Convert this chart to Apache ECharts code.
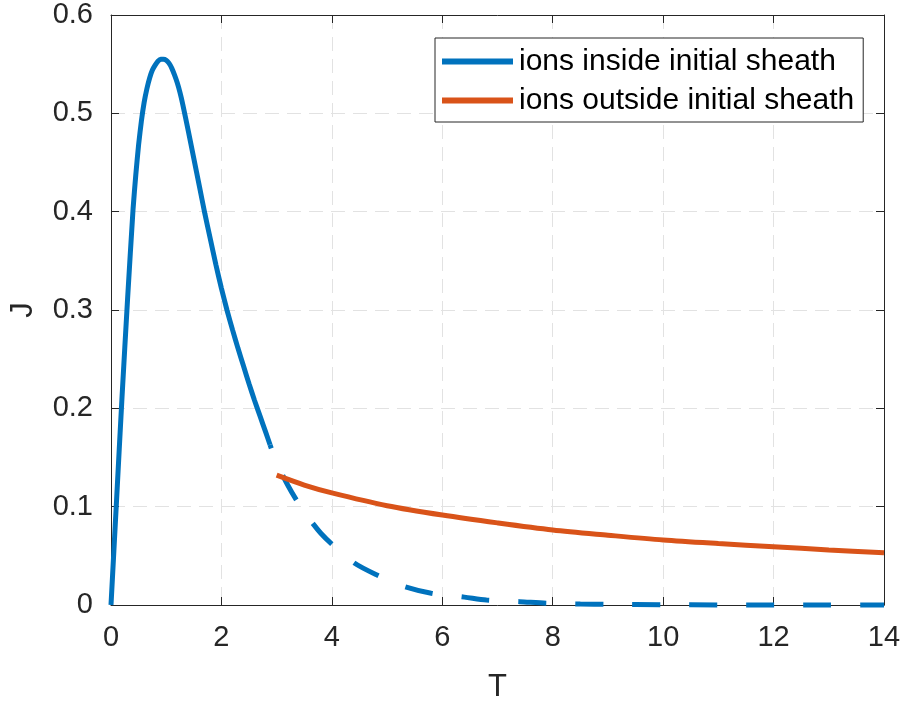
<!DOCTYPE html>
<html>
<head>
<meta charset="utf-8">
<script src="https://cdn.jsdelivr.net/npm/echarts@6/dist/echarts.min.js"></script>
<style>
html,body{margin:0;padding:0;background:#fff;}
#chart{width:904px;height:704px;}
</style>
</head>
<body>
<div id="chart"></div>
<script>
// Data
var insideT = [0, 0.1, 0.2, 0.3, 0.4, 0.45, 0.5, 0.55, 0.6, 0.65, 0.7, 0.75, 0.8, 0.85, 0.9, 0.95, 1.0, 1.05, 1.1, 1.15, 1.2, 1.25, 1.3, 1.4, 1.5, 1.6, 1.7, 1.8, 1.9, 2.0, 2.1, 2.2, 2.3, 2.4, 2.5, 2.6, 2.7, 2.8, 2.88];
var insideJ = [0, 0.106, 0.212, 0.311, 0.403, 0.438, 0.468, 0.492, 0.511, 0.525, 0.536, 0.544, 0.549, 0.553, 0.555, 0.555, 0.554, 0.551, 0.546, 0.539, 0.531, 0.521, 0.509, 0.482, 0.454, 0.426, 0.398, 0.372, 0.346, 0.322, 0.300, 0.280, 0.261, 0.243, 0.225, 0.208, 0.192, 0.176, 0.163];
var tailT = [2.88, 3.0, 3.2, 3.4, 3.6, 3.8, 4.0, 4.4, 4.8, 5.3, 5.8, 6.4, 6.8, 7.4, 7.9, 8.5, 9, 10, 11, 12, 13, 14];
var tailJ = [0.163, 0.145, 0.122, 0.103, 0.087, 0.073, 0.062, 0.043, 0.031, 0.019, 0.012, 0.008, 0.005, 0.0034, 0.0018, 0.001, 0.0006, 0.0003, 0.0001, 0, 0, 0];
var outsideT = [3, 3.5, 4, 5, 6, 7, 8, 9, 10, 11, 12, 13, 14];
var outsideJ = [0.132, 0.122, 0.114, 0.101, 0.0915, 0.0835, 0.0763, 0.071, 0.0661, 0.0625, 0.0593, 0.056, 0.0532];
var seriesNames = ['ions inside initial sheath', 'ions outside initial sheath'];
var xLabel = 'T';
var yLabel = 'J';

function pairs(xs, ys) { return xs.map(function (x, i) { return [x, ys[i]]; }); }

var AX = '#262626';
var GRID = '#e2e2e2';
var FONT = 'Liberation Sans, Arial, sans-serif';
var BLUE = '#0072BD';
var ORANGE = '#D95319';
var DASH = [28, 29];
var DASH_START_T = 13.57; // a dash of the tail begins here in the reference

var chart = echarts.init(document.getElementById('chart'), null, {renderer: 'canvas'});
chart.setOption({
  animation: false,
  backgroundColor: '#fff',
  textStyle: {fontFamily: FONT},
  grid: {left: 111, right: 20, top: 15, bottom: 99, containLabel: false, outerBoundsMode: 'none'},
  legend: {
    data: seriesNames,
    left: 435, top: 38,
    orient: 'vertical',
    backgroundColor: '#fff',
    borderColor: AX, borderWidth: 1,
    padding: [8, 9, 6, 7],
    itemGap: 8,
    itemWidth: 71, itemHeight: 6,
    icon: 'rect',
    textStyle: {fontFamily: FONT, fontSize: 30, color: '#000', lineHeight: 31, padding: [0, 0, 0, 1]},
    selectedMode: false
  },
  xAxis: [{
    type: 'value', min: 0, max: 14, interval: 2,
    name: xLabel, nameLocation: 'middle', nameGap: 67,
    nameTextStyle: {fontFamily: FONT, fontSize: 31, color: AX},
    axisLine: {show: true, onZero: false, lineStyle: {color: AX, width: 1}},
    axisTick: {show: true, inside: true, length: 8, lineStyle: {color: AX}},
    axisLabel: {fontFamily: FONT, fontSize: 29, color: AX, margin: 18},
    splitLine: {show: true, lineStyle: {color: GRID, width: 1, type: [14, 8]}}
  }, {
    type: 'value', min: 0, max: 14, interval: 2, position: 'top',
    axisLine: {show: true, onZero: false, lineStyle: {color: AX, width: 1}},
    axisTick: {show: true, inside: true, length: 8, lineStyle: {color: AX}},
    axisLabel: {show: false},
    splitLine: {show: false}
  }],
  yAxis: [{
    type: 'value', min: 0, max: 0.6, interval: 0.1,
    name: yLabel, nameLocation: 'middle', nameGap: 72, nameRotate: 90,
    nameTextStyle: {fontFamily: FONT, fontSize: 31, color: AX},
    axisLine: {show: true, onZero: false, lineStyle: {color: AX, width: 1}},
    axisTick: {show: true, inside: true, length: 8, lineStyle: {color: AX}},
    axisLabel: {fontFamily: FONT, fontSize: 29, color: AX, margin: 18,
      formatter: function (v) { return String(Math.round(v * 10) / 10); }},
    splitLine: {show: true, lineStyle: {color: GRID, width: 1, type: [14, 8]}}
  }, {
    type: 'value', min: 0, max: 0.6, interval: 0.1, position: 'right',
    axisLine: {show: true, onZero: false, lineStyle: {color: AX, width: 1}},
    axisTick: {show: true, inside: true, length: 8, lineStyle: {color: AX}},
    axisLabel: {show: false},
    splitLine: {show: false}
  }],
  series: [{
    name: seriesNames[0], type: 'line', data: pairs(insideT, insideJ),
    showSymbol: false, smooth: 0.2, clip: false,
    color: BLUE, itemStyle: {color: BLUE},
    lineStyle: {color: BLUE, width: 5}
  }, {
    name: 'tail', type: 'line', data: pairs(tailT, tailJ),
    showSymbol: false, smooth: 0.3, clip: false,
    color: BLUE,
    lineStyle: {color: BLUE, width: 5, type: DASH, dashOffset: 0}
  }, {
    name: seriesNames[1], type: 'line', data: pairs(outsideT, outsideJ),
    showSymbol: false, smooth: 0.3, clip: false,
    color: ORANGE, itemStyle: {color: ORANGE},
    lineStyle: {color: ORANGE, width: 5}
  }]
});

// Align the dash phase of the tail with the reference (style only).
(function () {
  var finder = {xAxisIndex: 0, yAxisIndex: 0};
  var L = 0, prev = chart.convertToPixel(finder, [tailT[0], tailJ[0]]);
  for (var i = 1; i < tailT.length; i++) {
    var cur = chart.convertToPixel(finder, [tailT[i], tailJ[i]]);
    if (tailT[i] > DASH_START_T) {
      var f = (DASH_START_T - tailT[i - 1]) / (tailT[i] - tailT[i - 1]);
      L += f * Math.hypot(cur[0] - prev[0], cur[1] - prev[1]);
      break;
    }
    L += Math.hypot(cur[0] - prev[0], cur[1] - prev[1]);
    prev = cur;
  }
  var P = DASH[0] + DASH[1];
  var off = (P - (L % P)) % P;
  chart.setOption({series: [{}, {lineStyle: {dashOffset: off}}, {}]});
})();
</script>
</body>
</html>
